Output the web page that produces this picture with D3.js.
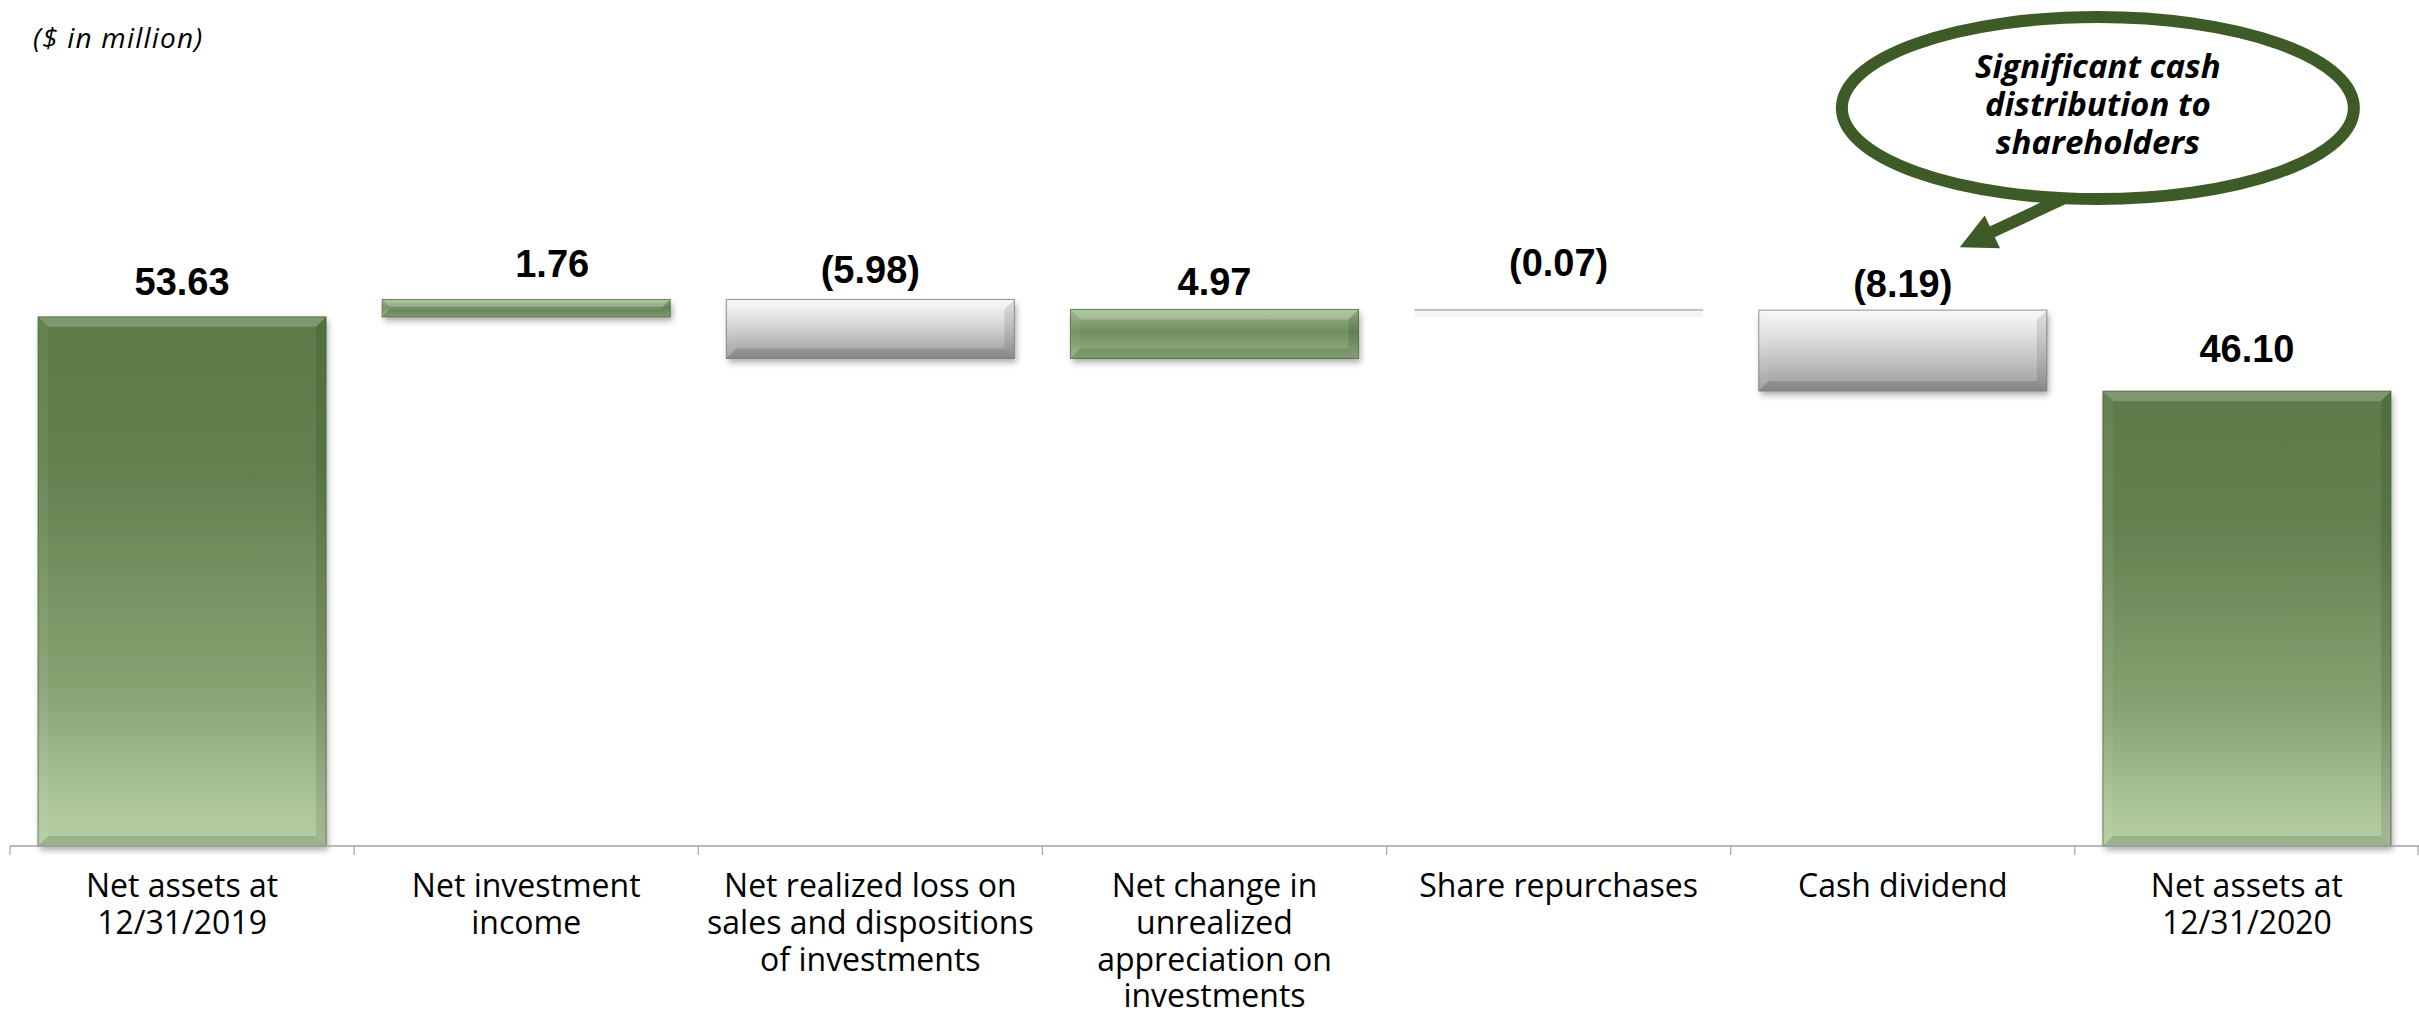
<!DOCTYPE html>
<html><head><meta charset="utf-8">
<script src="https://cdn.jsdelivr.net/npm/d3@7"></script>
<style>html,body{margin:0;padding:0;background:#fff;} svg{display:block;}</style>
</head><body>
<script>
// ---------- DATA ----------
const categories = [
  "Net assets at\n12/31/2019",
  "Net investment\nincome",
  "Net realized loss on\nsales and dispositions\nof investments",
  "Net change in\nunrealized\nappreciation on\ninvestments",
  "Share repurchases",
  "Cash dividend",
  "Net assets at\n12/31/2020"
];
const barTypes = ["total", "delta", "delta", "delta", "delta", "delta", "total"];
const values = [53.63, 1.76, -5.98, 4.97, -0.07, -8.19, 46.10];
const unitNote = "($ in million)";
const calloutLines = ["Significant cash", "distribution to", "shareholders"];

// ---------- LAYOUT / STYLE ----------
const W = 2419, H = 1014;
const labelGap = [22, 22, 16, 14, 33, 13, 29];   // px between bar top and value label baseline
const labelDx  = [0, 26, 0, 0, 0, 0, 0];

const svg = d3.select("body").append("svg").attr("width", W).attr("height", H);
const defs = svg.append("defs");

function grad(id, stops) {
  const g = defs.append("linearGradient").attr("id", id)
    .attr("x1", 0).attr("y1", 0).attr("x2", 0).attr("y2", 1);
  stops.forEach(s => g.append("stop").attr("offset", s[0]).attr("stop-color", s[1]));
}
grad("gTotal", [[0, "#5b7a47"], [0.3, "#638250"], [0.7, "#86a372"], [0.93, "#adc79a"], [1, "#b4cda1"]]);
grad("gPos", [[0, "#9ab988"], [0.45, "#6f8e5c"], [1, "#96b483"]]);
grad("gNeg", [[0, "#f7f7f7"], [0.3, "#e2e2e2"], [1, "#9b9b9b"]]);

const f = defs.append("filter").attr("id", "shadow")
  .attr("filterUnits", "userSpaceOnUse").attr("x", 0).attr("y", 0).attr("width", W).attr("height", H);
f.append("feDropShadow").attr("dx", 2).attr("dy", 4).attr("stdDeviation", 3)
  .attr("flood-color", "#000").attr("flood-opacity", 0.33);

// ---------- SCALES ----------
const x = d3.scaleBand().domain(categories).range([10, W]).padding(0);
const y = d3.scaleLinear().domain([0, 60]).range([846, 254]);
const bw = x.bandwidth();
const barW = bw * 0.837;
const inset = (bw - barW) / 2;

// waterfall computation
let run = 0;
const bars = values.map((v, i) => {
  let a, b;
  if (barTypes[i] === "total") { a = 0; b = v; run = v; }
  else { a = run; b = run + v; run = b; }
  return { i, cat: categories[i], v, type: barTypes[i], lo: Math.min(a, b), hi: Math.max(a, b) };
});

// ---------- BARS ----------
const gBars = svg.append("g");
bars.forEach(d => {
  const bx = x(d.cat) + inset, by = y(d.hi), bh = Math.max(y(d.lo) - y(d.hi), 0.8), bwid = barW;
  const fill = d.type === "total" ? "url(#gTotal)" : (d.v >= 0 ? "url(#gPos)" : "url(#gNeg)");
  let stroke = d.type === "total" || d.v >= 0 ? "rgba(70,95,55,0.75)" : "rgba(120,120,120,0.8)";
  if (bh < 3) stroke = "#bdbdbd";
  const g = gBars.append("g");
  g.append("rect").attr("x", bx).attr("y", by).attr("width", bwid).attr("height", bh)
    .attr("fill", fill).attr("filter", bh < 3 ? null : "url(#shadow)");
  if (bh > 3) {
    const b = Math.min(10, bh / 2.3, bwid / 8);
    const poly = (pts, c, o) => g.append("polygon").attr("points", pts.map(p => p.join(",")).join(" "))
      .attr("fill", c).attr("fill-opacity", o);
    poly([[bx, by], [bx + bwid, by], [bx + bwid - b, by + b], [bx + b, by + b]], "#fff", 0.22);
    poly([[bx, by], [bx + b, by + b], [bx + b, by + bh - b], [bx, by + bh]], "#fff", 0.06);
    poly([[bx + bwid, by], [bx + bwid - b, by + b], [bx + bwid - b, by + bh - b], [bx + bwid, by + bh]], "#000", 0.10);
    poly([[bx, by + bh], [bx + b, by + bh - b], [bx + bwid - b, by + bh - b], [bx + bwid, by + bh]], "#000", 0.13);
  } else {
    g.append("rect").attr("x", bx).attr("y", by + 1.5).attr("width", bwid).attr("height", 6)
      .attr("fill", "#000").attr("fill-opacity", 0.04);
  }
  g.append("rect").attr("x", bx).attr("y", by).attr("width", bwid).attr("height", bh)
    .attr("fill", "none").attr("stroke", stroke).attr("stroke-width", 1);
});

// ---------- VALUE LABELS ----------
const fmt = d3.format(".2f");
svg.append("g").selectAll("text").data(bars).join("text")
  .attr("x", d => x(d.cat) + bw / 2 + labelDx[d.i])
  .attr("y", d => y(d.hi) - labelGap[d.i])
  .attr("text-anchor", "middle")
  .attr("font-family", "Liberation Sans, Arial, sans-serif")
  .attr("font-weight", "bold")
  .attr("font-size", 38)
  .attr("fill", "#000")
  .text(d => d.v < 0 ? "(" + fmt(-d.v) + ")" : fmt(d.v));

// ---------- AXIS ----------
const axisY = y(0);
const ax = svg.append("g").attr("stroke", "#a3a3a3");
ax.append("line").attr("x1", x.range()[0]).attr("x2", x.range()[1]).attr("y1", axisY).attr("y2", axisY).attr("stroke-width", 1.5);
categories.map(c => x(c)).concat([x.range()[1] - 1]).forEach(t => {
  ax.append("line").attr("x1", t).attr("x2", t).attr("y1", axisY).attr("y2", axisY + 9).attr("stroke-width", 1.2);
});

const catG = svg.append("g");
categories.forEach(c => {
  const t = catG.append("text")
    .attr("text-anchor", "middle")
    .attr("font-family", "Open Sans, sans-serif")
    .attr("font-size", 32)
    .attr("fill", "#000");
  c.split("\n").forEach((line, k) => {
    t.append("tspan").attr("x", x(c) + bw / 2).attr("y", axisY + 51 + k * 36.8).text(line);
  });
});

// ---------- UNIT NOTE ----------
svg.append("text").attr("x", 33).attr("y", 48)
  .attr("font-family", "Open Sans, sans-serif").attr("font-style", "italic")
  .attr("font-size", 28).attr("letter-spacing", 1.2).attr("fill", "#000")
  .text(unitNote);

// ---------- CALLOUT ----------
const divBar = bars[5];
const cx = x(divBar.cat) + bw + 23, cy = 108, rx = 256, ry = 91;
const callout = svg.append("g");
const tipX = x(divBar.cat) + bw / 2 + 57, tipY = y(divBar.hi) - 63;
const dir = [0.905, -0.425];
const headLen = 36, headHalf = 18, shaftLen = 118;
const baseX = tipX + dir[0] * headLen, baseY = tipY + dir[1] * headLen;
const nrm = [-dir[1], dir[0]];
callout.append("line")
  .attr("x1", tipX + dir[0] * shaftLen).attr("y1", tipY + dir[1] * shaftLen)
  .attr("x2", baseX - dir[0] * 2).attr("y2", baseY - dir[1] * 2)
  .attr("stroke", "#3e5b27").attr("stroke-width", 12);
callout.append("polygon")
  .attr("points", [[tipX, tipY], [baseX + nrm[0] * headHalf, baseY + nrm[1] * headHalf], [baseX - nrm[0] * headHalf, baseY - nrm[1] * headHalf]].map(p => p.join(",")).join(" "))
  .attr("fill", "#3e5b27");
callout.append("ellipse").attr("cx", cx).attr("cy", cy).attr("rx", rx).attr("ry", ry)
  .attr("fill", "#fff").attr("stroke", "#3e5b27").attr("stroke-width", 12);
const ct = callout.append("text").attr("text-anchor", "middle")
  .attr("font-family", "Open Sans, sans-serif").attr("font-style", "italic").attr("font-weight", 700)
  .attr("font-size", 33).attr("fill", "#000");
calloutLines.forEach((l, k) => ct.append("tspan").attr("x", cx).attr("y", cy - 30 + k * 38).text(l));
</script>
</body></html>
